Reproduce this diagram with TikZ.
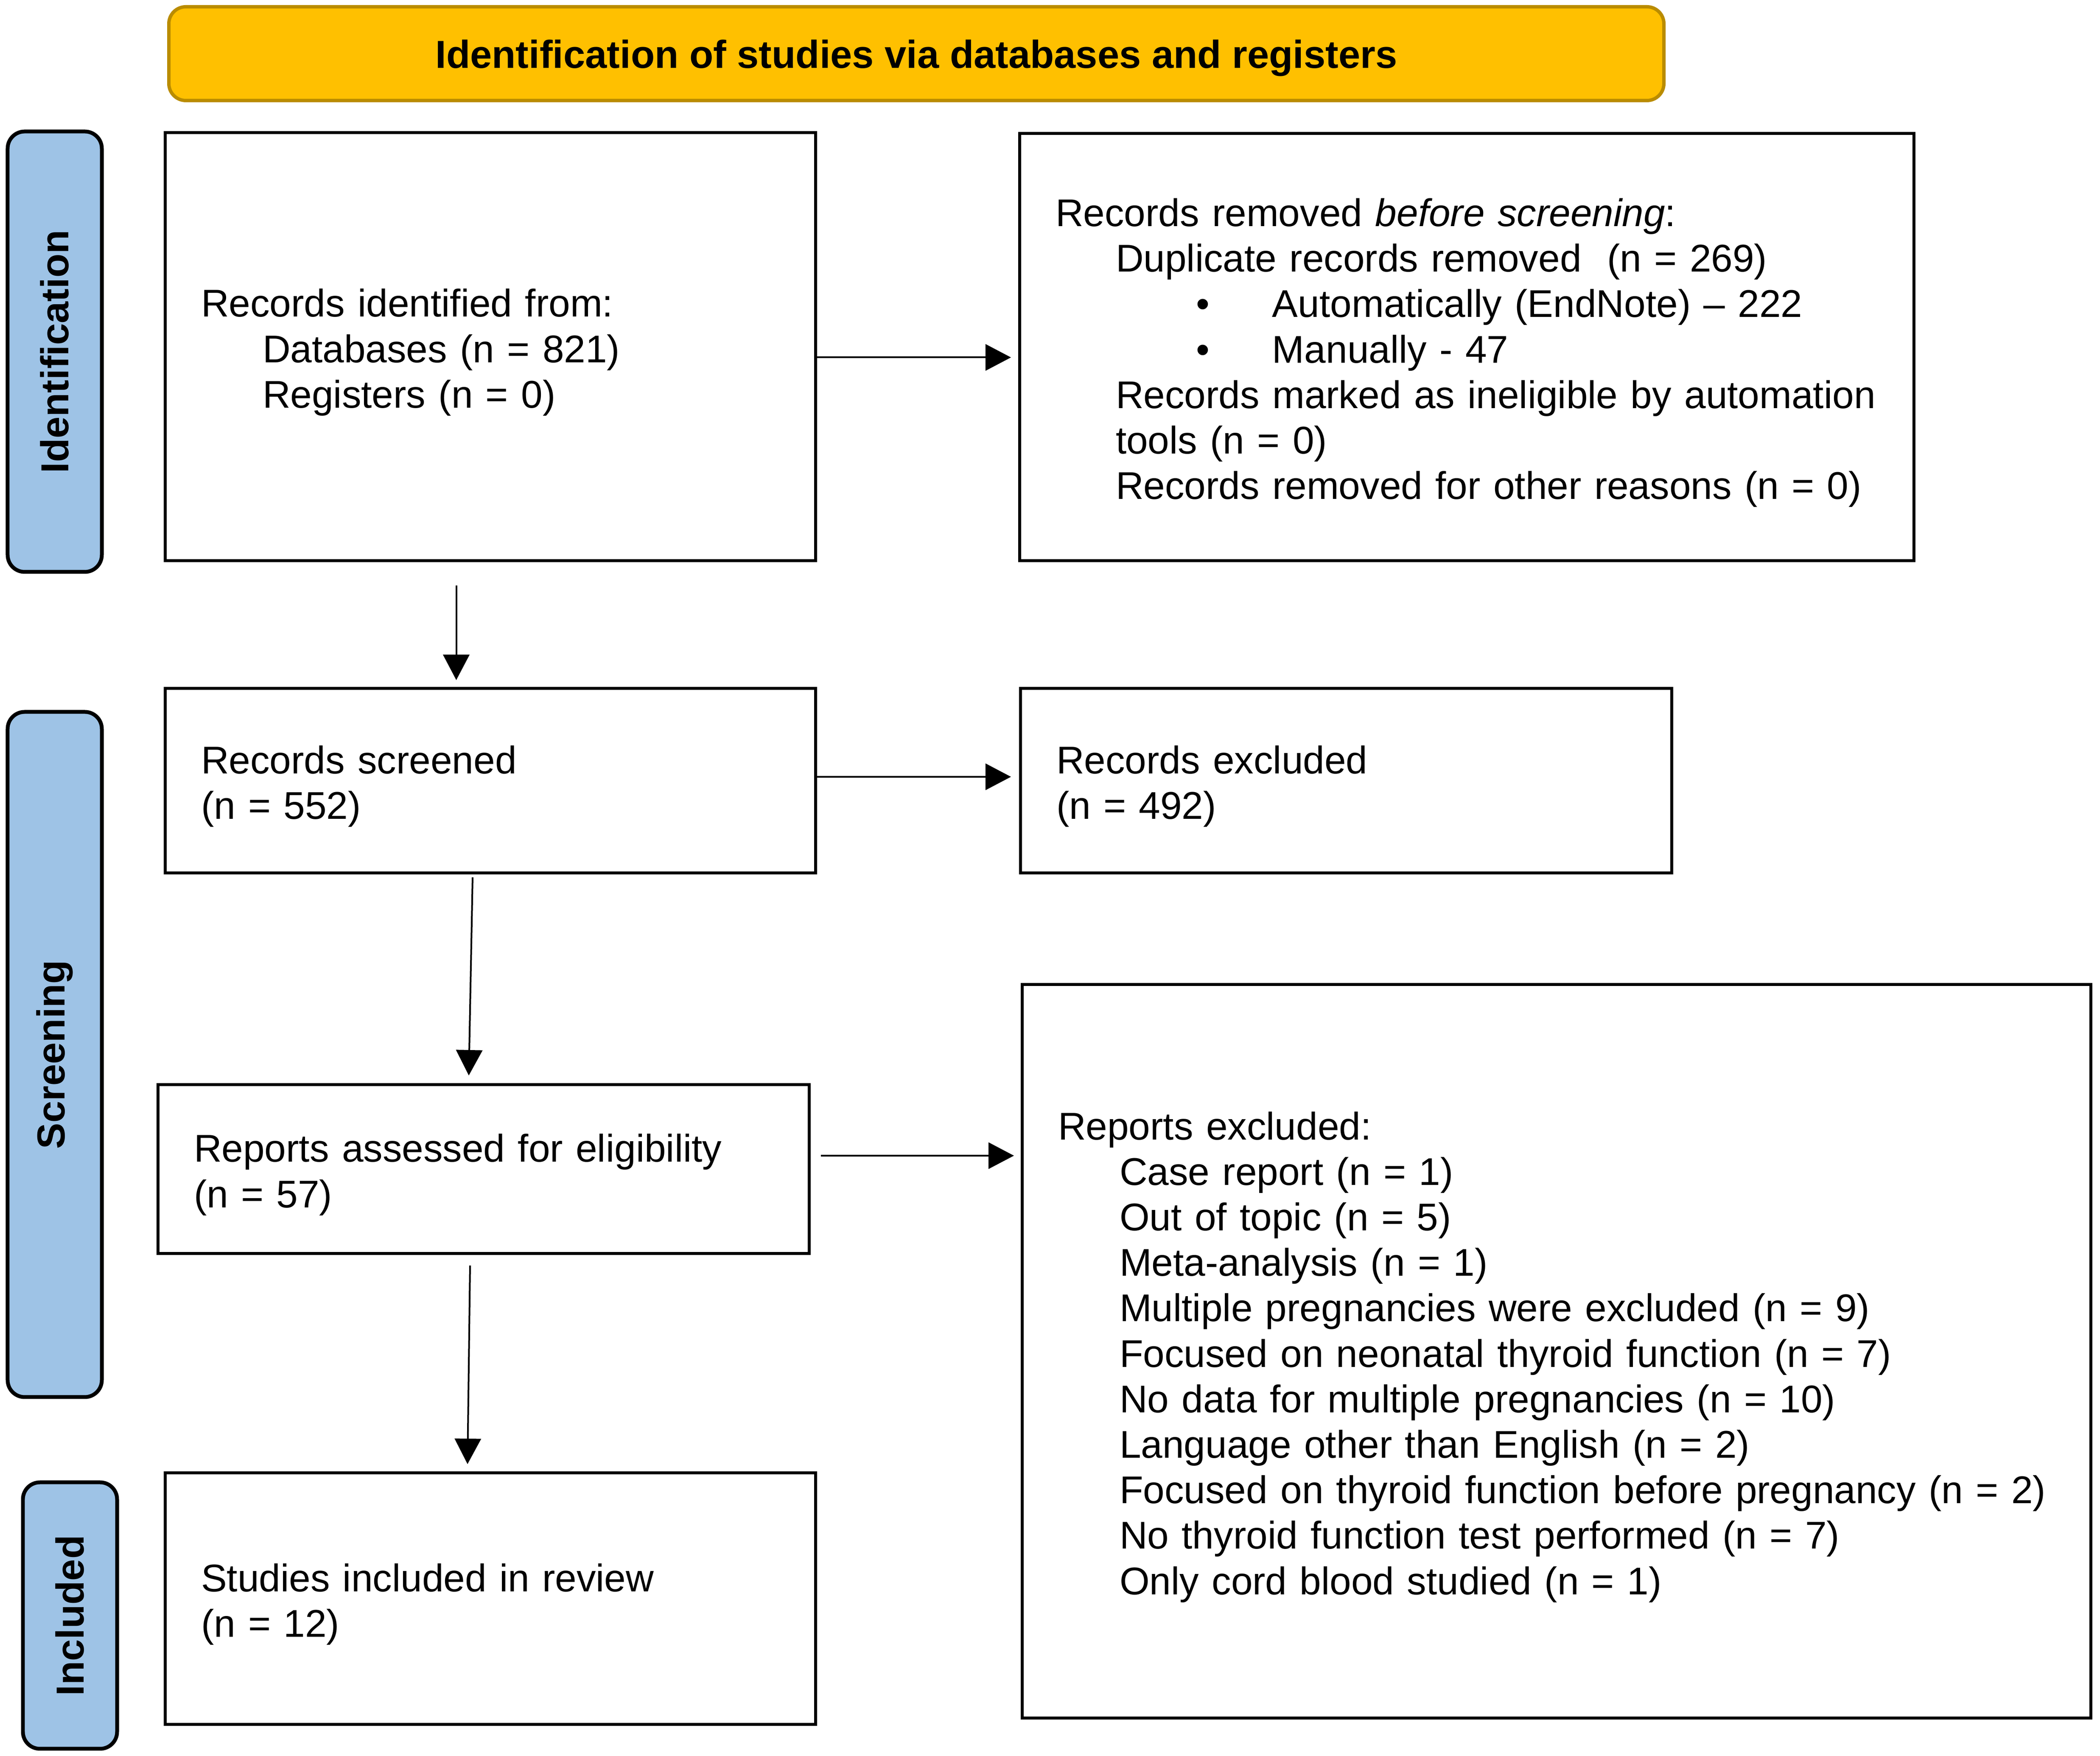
\documentclass[tikz,border=0pt]{standalone}
\usepackage{fontspec}
\setmainfont{Liberation Sans}
\usepackage{tikz}
\usetikzlibrary{arrows.meta}

\definecolor{headfill}{RGB}{255,192,0}
\definecolor{headline}{RGB}{186,140,0}
\definecolor{sidefill}{RGB}{158,195,230}

\tikzset{
	txt/.style={font=\fontsize{25.9pt}{30.5pt}\selectfont},
	box/.style={txt,draw,line width=0.07cm,align=left,inner xsep=0.85cm,inner ysep=0pt,
		execute at begin node={\rule{0pt}{0.92cm}}},
	side/.style={draw,fill=sidefill,line width=0.09cm,rounded corners=0.4cm,rotate=90,
		minimum height=2.22cm,inner sep=0pt,font=\fontsize{26.2pt}{30.4pt}\selectfont\bfseries},
	arr/.style={line width=0.04cm,-{Triangle[length=0.6cm,width=0.62cm]}},
}

\begin{document}
\begin{tikzpicture}
	\useasboundingbox (0,0) rectangle (49.5,41.39);
	\draw (21.60,40.125) node(head) [draw=headline,fill=headfill,line width=0.08cm,rounded corners=0.4cm,
		minimum width=35.24cm,minimum height=2.21cm,text height=0.78cm,text depth=0.1cm,
		font=\fontsize{26.2pt}{30.4pt}\selectfont\bfseries]
		{Identification of studies via databases and registers};
	\draw (1.29,33.10) node(sideA) [side,minimum width=10.38cm] {Identification};
	\draw (1.29,16.535) node(sideB) [side,minimum width=16.15cm] {Screening};
	\draw (1.65,3.31) node(sideC) [side,minimum width=6.28cm] {Included};
	\draw (11.555,33.215) node(ident) [box,text width=13.63cm,minimum height=10.09cm]
		{Records identified from:\\
		\hspace*{1.45cm}Databases (n = 821)\\
		\hspace*{1.45cm}Registers (n = 0)};
	\draw (34.57,33.205) node(removed) [box,text width=19.38cm,minimum height=10.07cm]
		{Records removed \textit{before screening}:\\
		\hspace*{1.42cm}Duplicate records removed\ \ (n = 269)\\
		\hspace*{3.31cm}\makebox[1.8cm][l]{•}Automatically (EndNote) – 222\\
		\hspace*{3.31cm}\makebox[1.8cm][l]{•}Manually - 47\\
		\hspace*{1.42cm}\mbox{Records marked as ineligible by automation}\\
		\hspace*{1.42cm}tools (n = 0)\\
		\hspace*{1.42cm}Records removed for other reasons (n = 0)};
	\draw (11.555,22.985) node(screen) [box,text width=13.63cm,minimum height=4.35cm]
		{Records screened\\(n = 552)};
	\draw (31.725,22.985) node(excl) [box,text width=13.65cm,minimum height=4.35cm]
		{Records excluded\\(n = 492)};
	\draw (11.395,13.83) node(assess) [box,text width=13.65cm,minimum height=3.98cm]
		{Reports assessed for eligibility\\(n = 57)};
	\draw (36.685,9.535) node(repex) [box,text width=23.49cm,minimum height=17.29cm]
		{Reports excluded:\\
		\hspace*{1.45cm}Case report (n = 1)\\
		\hspace*{1.45cm}Out of topic (n = 5)\\
		\hspace*{1.45cm}Meta-analysis (n = 1)\\
		\hspace*{1.45cm}Multiple pregnancies were excluded (n = 9)\\
		\hspace*{1.45cm}Focused on neonatal thyroid function (n = 7)\\
		\hspace*{1.45cm}No data for multiple pregnancies (n = 10)\\
		\hspace*{1.45cm}Language other than English (n = 2)\\
		\hspace*{1.45cm}\mbox{Focused on thyroid function before pregnancy (n = 2)}\\
		\hspace*{1.45cm}No thyroid function test performed (n = 7)\\
		\hspace*{1.45cm}Only cord blood studied (n = 1)};
	\draw (11.555,3.705) node(incl) [box,text width=13.63cm,minimum height=5.93cm]
		{Studies included in review\\(n = 12)};
	% side arrows
	\path[draw,arr,shorten >=0.165cm] ([yshift=-0.25cm]ident.east) -- ([yshift=-0.25cm]ident.east -| removed.west);
	\path[draw,arr,shorten >=0.185cm] ([yshift=0.095cm]screen.east) -- ([yshift=0.095cm]screen.east -| excl.west);
	\path[draw,arr,shorten >=0.155cm] ([xshift=0.245cm,yshift=0.32cm]assess.east) -- ([yshift=0.32cm]assess.east -| repex.west);
	% down arrows
	\path[draw,arr] ([xshift=-0.8cm,yshift=-0.55cm]ident.south) -- ([xshift=-0.8cm,yshift=0.165cm]screen.north);
	\path[draw,arr] ([xshift=-0.415cm,yshift=-0.065cm]screen.south) -- ([xshift=-0.345cm,yshift=0.185cm]assess.north);
	\path[draw,arr] ([xshift=-0.315cm,yshift=-0.245cm]assess.south) -- ([xshift=-0.535cm,yshift=0.175cm]incl.north);
\end{tikzpicture}
\end{document}
